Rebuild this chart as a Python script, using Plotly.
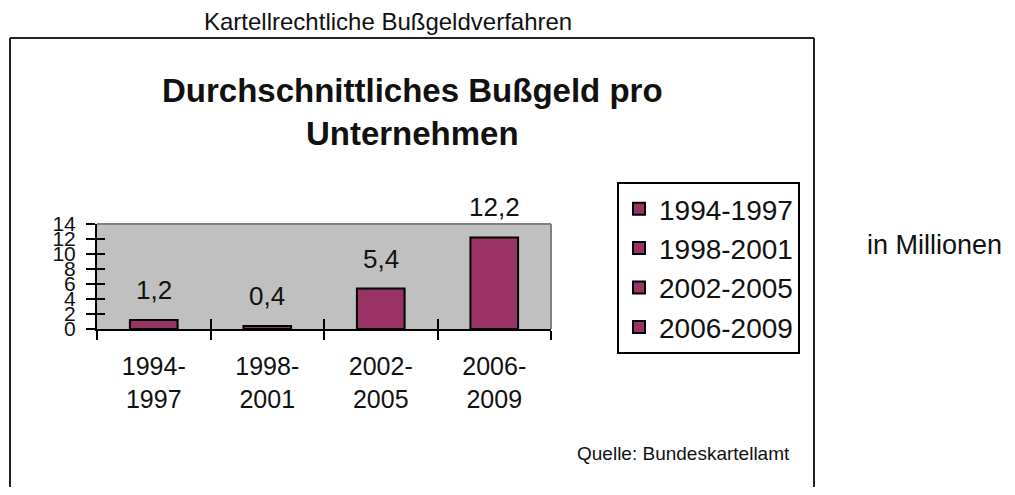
import plotly.graph_objects as go

periods = ["1994-1997", "1998-2001", "2002-2005", "2006-2009"]
tick_labels = ["1994-<br>1997", "1998-<br>2001", "2002-<br>2005", "2006-<br>2009"]
values = [1.2, 0.4, 5.4, 12.2]
value_labels = ["1,2", "0,4", "5,4", "12,2"]
y_ticks = [0, 2, 4, 6, 8, 10, 12, 14]

OFF = 8  # page body margin
W, H = 1015 - 2 * OFF, 495 - 2 * OFF
FONT = "Liberation Sans, Arial, sans-serif"
BAR = "#993366"
TXT = "#111"


def px_x(p):
    return (p - OFF) / W


def px_y(p):
    return 1 - (p - OFF) / H


fig = go.Figure()
for cat, val, name in zip(tick_labels, values, periods):
    fig.add_trace(go.Bar(
        x=[cat], y=[val], name=name, width=0.42,
        marker=dict(color=BAR, line=dict(color="black", width=2)),
        showlegend=True,
    ))

# helper trace on overlay axes (for the inside halves of the tick marks)
fig.add_trace(go.Scatter(x=[None], y=[None], xaxis="x2", yaxis="y2",
                         showlegend=False, hoverinfo="skip"))

for cat, val, lab in zip(tick_labels, values, value_labels):
    fig.add_annotation(x=cat, y=val, text=lab, showarrow=False,
                       yanchor="bottom", yshift=13,
                       font=dict(family=FONT, size=26, color=TXT))

dom_x = [px_x(97), px_x(551)]
dom_y = [px_y(329), px_y(224)]

fig.update_layout(
    width=W, height=H,
    margin=dict(l=0, r=0, t=0, b=0, autoexpand=False),
    paper_bgcolor="white",
    plot_bgcolor="#c0c0c0",
    barmode="overlay",
    font=dict(family=FONT, color=TXT),
    xaxis=dict(domain=dom_x, type="category", tickson="boundaries",
               ticks="outside", ticklen=9, tickwidth=2, tickcolor="black",
               showline=True, linecolor="black", linewidth=2,
               showgrid=False, zeroline=False, automargin=False,
               tickfont=dict(size=25, family=FONT, color=TXT),
               ticklabelstandoff=14, anchor="y"),
    yaxis=dict(domain=dom_y, range=[0, 14], tickvals=y_ticks,
               ticks="outside", ticklen=9, tickwidth=2, tickcolor="black",
               showline=True, linecolor="black", linewidth=2,
               showgrid=False, zeroline=False, automargin=False,
               tickfont=dict(size=21, family=FONT, color=TXT),
               ticklabelstandoff=6, anchor="x"),
    xaxis2=dict(overlaying="x", range=[-0.5, 3.5], tickvals=[0.5, 1.5, 2.5, 3.5],
                ticks="inside", ticklen=10, tickwidth=2, tickcolor="black",
                showticklabels=False, showgrid=False, zeroline=False,
                showline=False, anchor="y2", side="bottom", automargin=False),
    yaxis2=dict(overlaying="y", range=[0, 14], tickvals=y_ticks,
                ticks="inside", ticklen=8, tickwidth=2, tickcolor="black",
                showticklabels=False, showgrid=False, zeroline=False,
                showline=False, anchor="x2", side="left", automargin=False),
    legend=dict(x=px_x(617), y=px_y(182), xanchor="left", yanchor="top",
                bordercolor="black", borderwidth=2, bgcolor="white",
                font=dict(size=28, family=FONT, color=TXT), tracegroupgap=0,
                itemclick=False),
    showlegend=True,
)

# plot-area top/right gray border
fig.add_shape(type="line", xref="x domain", yref="y domain", x0=0, x1=1, y0=1, y1=1,
              line=dict(color="#808080", width=2))
fig.add_shape(type="line", xref="x domain", yref="y domain", x0=1, x1=1, y0=0, y1=1,
              line=dict(color="#808080", width=2))

# outer frame (left, top, right; bottom is cut off)
for (xa, ya, xb, yb) in [(10, 500, 10, 38), (10, 38, 814, 38), (814, 38, 814, 500)]:
    fig.add_shape(type="line", xref="paper", yref="paper",
                  x0=px_x(xa), y0=px_y(ya), x1=px_x(xb), y1=px_y(yb),
                  line=dict(color="#222", width=2), layer="below")

fig.add_annotation(text="<b>Durchschnittliches Bußgeld pro<br>Unternehmen</b>",
                   xref="paper", yref="paper", x=px_x(412), y=px_y(111.5),
                   showarrow=False, xanchor="center", yanchor="middle",
                   font=dict(size=33, family=FONT, color=TXT))
fig.add_annotation(text="Kartellrechtliche Bußgeldverfahren", xref="paper", yref="paper",
                   x=px_x(388), y=px_y(22), showarrow=False, xanchor="center", yanchor="middle",
                   borderpad=0, font=dict(size=24, family=FONT, color=TXT))
fig.add_annotation(text="in Millionen", xref="paper", yref="paper",
                   x=px_x(934), y=px_y(245), showarrow=False, xanchor="center", yanchor="middle",
                   font=dict(size=27, family=FONT, color=TXT))
fig.add_annotation(text="Quelle: Bundeskartellamt", xref="paper", yref="paper",
                   x=px_x(683), y=px_y(453), showarrow=False, xanchor="center", yanchor="middle",
                   font=dict(size=19, family=FONT, color=TXT))

fig.write_html("out.html")
